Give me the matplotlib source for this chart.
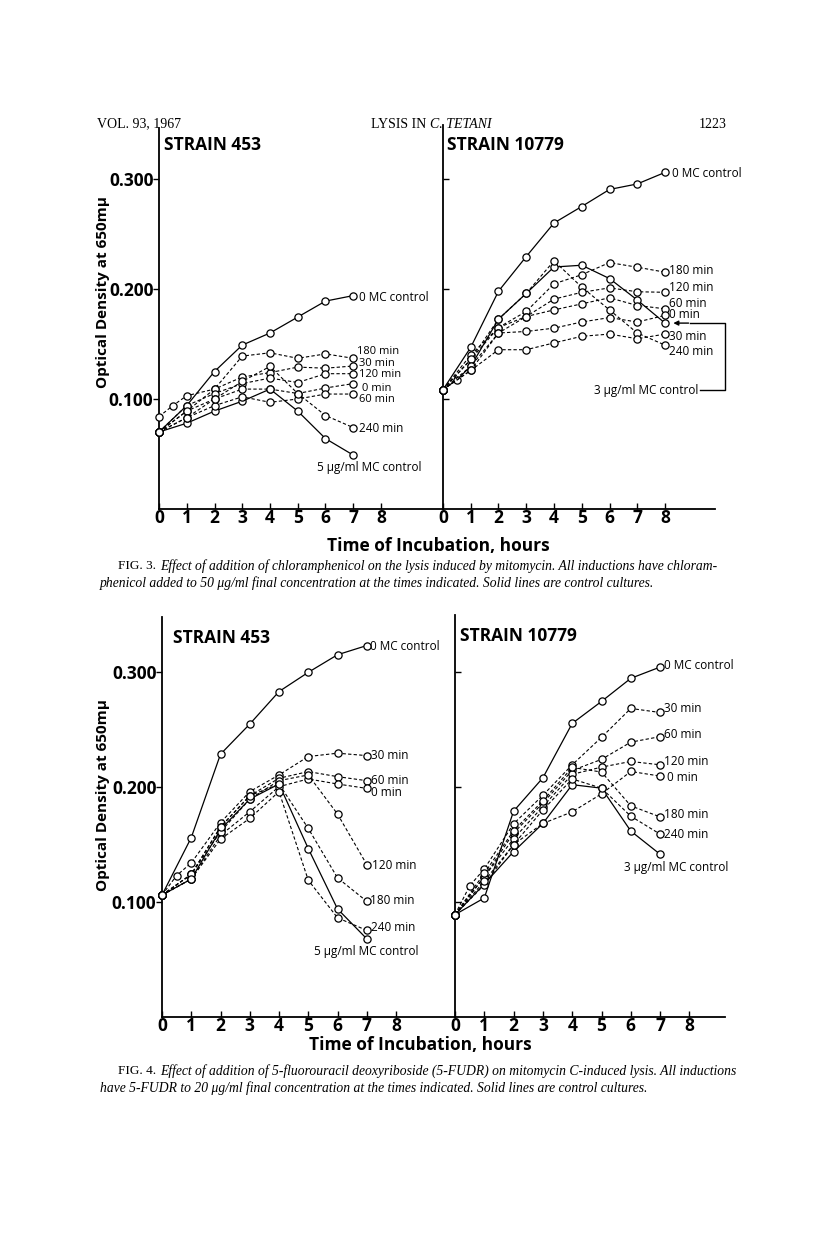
import matplotlib
matplotlib.use("Agg")
import matplotlib.pyplot as plt

# ---------------- data ----------------
hours_453_f3 = [0, 1, 2, 3, 4, 5, 6, 7]
hours_453_f3_30 = [0, 0.5, 1, 2, 3, 4, 5, 6, 7]
f3_453_mc0 = [0.070, 0.094, 0.125, 0.149, 0.160, 0.1745, 0.189, 0.194]
f3_453_mc5 = [0.070, 0.078, 0.089, 0.098, 0.109, 0.089, 0.064, 0.049]
f3_453_180 = [0.070, 0.089, 0.109, 0.139, 0.142, 0.137, 0.141, 0.137]
f3_453_30 = [0.084, 0.094, 0.103, 0.109, 0.120, 0.124, 0.129, 0.128, 0.130]
f3_453_120 = [0.070, 0.094, 0.105, 0.114, 0.119, 0.115, 0.123, 0.123]
f3_453_0 = [0.070, 0.089, 0.100, 0.109, 0.109, 0.105, 0.110, 0.114]
f3_453_60 = [0.070, 0.083, 0.094, 0.102, 0.097, 0.100, 0.1045, 0.1045]
f3_453_240 = [0.070, 0.083, 0.100, 0.116, 0.1296, 0.105, 0.085, 0.074]

hours_10779_f3 = [0, 1, 2, 3, 4, 5, 6, 7, 8]
hours_10779_f3_mc3 = [0, 0.5, 1, 2, 3, 4, 5, 6, 7, 8]
f3_10779_mc0 = [0.1085, 0.147, 0.198, 0.2295, 0.260, 0.275, 0.2905, 0.2955, 0.306]
f3_10779_mc3 = [0.1085, 0.1175, 0.1297, 0.1726, 0.196, 0.220, 0.2216, 0.2095, 0.190, 0.169]
f3_10779_240 = [0.1085, 0.136, 0.1726, 0.196, 0.2256, 0.2017, 0.181, 0.160, 0.149]
f3_10779_180 = [0.1085, 0.140, 0.165, 0.1796, 0.2047, 0.213, 0.224, 0.2198, 0.2153]
f3_10779_120 = [0.1085, 0.136, 0.165, 0.175, 0.1908, 0.197, 0.201, 0.1975, 0.197]
f3_10779_60 = [0.1085, 0.1297, 0.160, 0.175, 0.181, 0.1865, 0.192, 0.185, 0.182]
f3_10779_0 = [0.1085, 0.126, 0.160, 0.1614, 0.1644, 0.170, 0.174, 0.170, 0.176]
f3_10779_30 = [0.1085, 0.126, 0.1448, 0.1448, 0.151, 0.157, 0.159, 0.1548, 0.159]

hours_f4 = [0, 1, 2, 3, 4, 5, 6, 7]
hours_f4_30 = [0, 0.5, 1, 2, 3, 4, 5, 6, 7]
f4_453_mc0 = [0.106, 0.156, 0.2285, 0.2547, 0.283, 0.2997, 0.315, 0.323]
f4_453_mc5 = [0.106, 0.120, 0.163, 0.1895, 0.2026, 0.1465, 0.094, 0.068]
f4_453_30 = [0.106, 0.123, 0.134, 0.169, 0.196, 0.2105, 0.2265, 0.2294, 0.2273]
f4_453_60 = [0.106, 0.124, 0.165, 0.1924, 0.2076, 0.2134, 0.209, 0.2055]
f4_453_0 = [0.106, 0.120, 0.158, 0.1785, 0.2003, 0.207, 0.2026, 0.1988]
f4_453_120 = [0.106, 0.124, 0.161, 0.1895, 0.2055, 0.2105, 0.1765, 0.1326]
f4_453_180 = [0.106, 0.124, 0.1654, 0.1924, 0.2026, 0.164, 0.121, 0.1006]
f4_453_240 = [0.106, 0.120, 0.1547, 0.1727, 0.196, 0.119, 0.0863, 0.0753]

f4_10779_mc0 = [0.089, 0.1035, 0.179, 0.208, 0.2553, 0.2744, 0.2945, 0.3043]
f4_10779_mc3 = [0.089, 0.1156, 0.1438, 0.1683, 0.202, 0.199, 0.1617, 0.1415]
f4_10779_30 = [0.089, 0.114, 0.1288, 0.168, 0.1928, 0.2193, 0.2432, 0.2683, 0.2648]
f4_10779_60 = [0.089, 0.122, 0.160, 0.186, 0.2144, 0.224, 0.239, 0.2438]
f4_10779_120 = [0.089, 0.122, 0.155, 0.183, 0.211, 0.2173, 0.2222, 0.2193]
f4_10779_0 = [0.089, 0.115, 0.150, 0.1683, 0.1784, 0.194, 0.2135, 0.2095]
f4_10779_180 = [0.089, 0.125, 0.162, 0.188, 0.217, 0.213, 0.1836, 0.174]
f4_10779_240 = [0.089, 0.118, 0.150, 0.180, 0.207, 0.199, 0.1746, 0.159]

x_ticks = [0, 1, 2, 3, 4, 5, 6, 7, 8]
y_ticks = [0.100, 0.200, 0.300]
y_ticklabels = ["0.100", "0.200", "0.300"]

# ---------------- layout ----------------
W, H = 816, 1257
fig = plt.figure(figsize=(W / 100, H / 100), dpi=100)
fig.patch.set_facecolor("white")

SANS = ["Open Sans", "DejaVu Sans"]
SERIF = "Liberation Serif"


def px_axes(x0, y_top, x1, y_bot):
    return fig.add_axes([x0 / W, 1 - y_bot / H, (x1 - x0) / W, (y_bot - y_top) / H])


def style(ax, xmax, ymax, ylabels):
    ax.set_xlim(0, xmax)
    ax.set_ylim(0, ymax)
    for s in ("top", "right"):
        ax.spines[s].set_visible(False)
    for s in ("left", "bottom"):
        ax.spines[s].set_linewidth(1.3)
    ax.set_xticks(x_ticks)
    ax.set_xticklabels([str(t) for t in x_ticks], fontsize=12.5, fontweight="bold", family=SANS)
    ax.tick_params(axis="x", direction="in", length=4, width=1.0, pad=0)
    ax.set_yticks(y_ticks)
    if ylabels:
        ax.set_yticklabels(y_ticklabels, fontsize=12.5, fontweight="bold", family=SANS)
        ax.tick_params(axis="y", direction="out", length=4, width=1.0, pad=0)
    else:
        ax.set_yticklabels([])
        ax.tick_params(axis="y", direction="in", length=4, width=1.0)
    ax.set_facecolor("none")


def solid(ax, x, y):
    ax.plot(x, y, "-", color="black", lw=0.9, marker="o", ms=5.2, mfc="white",
            mec="black", mew=0.9, clip_on=False, zorder=3)


def dashed(ax, x, y):
    ax.plot(x, y, color="black", lw=0.8, dashes=(3, 2), marker="o", ms=5.2,
            mfc="white", mec="black", mew=0.9, clip_on=False, zorder=3)


def lab(ax, x, y, s, ha="left", size=8.5):
    ax.text(x, y, s, fontsize=size, family=SANS, ha=ha, va="center", zorder=4)


def strain(x_px, y_px, s):
    fig.text(x_px / W, 1 - y_px / H, s, fontsize=12.5, fontweight="bold",
             family=SANS, va="center", ha="left")


# ---- Figure 3 ----
a1 = px_axes(159, 128, 443, 509)
style(a1, 284 / 27.75, 381 / 1100, True)
solid(a1, hours_453_f3, f3_453_mc0)
solid(a1, hours_453_f3, f3_453_mc5)
dashed(a1, hours_453_f3, f3_453_180)
dashed(a1, hours_453_f3_30, f3_453_30)
dashed(a1, hours_453_f3, f3_453_120)
dashed(a1, hours_453_f3, f3_453_0)
dashed(a1, hours_453_f3, f3_453_60)
dashed(a1, hours_453_f3, f3_453_240)
lab(a1, 7.2, 0.192, "0 MC control")
lab(a1, 7.13, 0.1436, "180 min", size=8)
lab(a1, 7.22, 0.1325, "30 min", size=8)
lab(a1, 7.22, 0.1225, "120 min", size=8)
lab(a1, 7.3, 0.110, "0 min", size=8)
lab(a1, 7.22, 0.100, "60 min", size=8)
lab(a1, 7.22, 0.0736, "240 min")
lab(a1, 5.7, 0.038, "5 μg/ml MC control")
strain(164, 145, "STRAIN 453")

a2 = px_axes(443, 125, 715, 509)
style(a2, 272 / 27.75, 384 / 1100, False)
solid(a2, hours_10779_f3, f3_10779_mc0)
solid(a2, hours_10779_f3_mc3, f3_10779_mc3)
dashed(a2, hours_10779_f3, f3_10779_240)
dashed(a2, hours_10779_f3, f3_10779_180)
dashed(a2, hours_10779_f3, f3_10779_120)
dashed(a2, hours_10779_f3, f3_10779_60)
dashed(a2, hours_10779_f3, f3_10779_0)
dashed(a2, hours_10779_f3, f3_10779_30)
lab(a2, 8.25, 0.305, "0 MC control")
lab(a2, 8.15, 0.217, "180 min")
lab(a2, 8.15, 0.201, "120 min")
lab(a2, 8.15, 0.187, "60 min")
lab(a2, 8.15, 0.177, "0 min")
lab(a2, 8.15, 0.157, "30 min")
lab(a2, 8.15, 0.1436, "240 min")
lab(a2, 9.19, 0.108, "3 μg/ml MC control", ha="right")
a2.plot([9.26, 10.16, 10.16, 8.9], [0.108, 0.108, 0.169, 0.169], color="black",
        lw=1.0, clip_on=False)
a2.annotate("", xy=(8.2, 0.169), xytext=(8.95, 0.169),
            arrowprops=dict(arrowstyle="-|>", color="black", lw=1.0, mutation_scale=7),
            annotation_clip=False)
strain(447, 145, "STRAIN 10779")

fig.text(103 / W, 1 - 292 / H, "Optical Density at 650mμ", rotation=90, fontsize=11,
         fontweight="bold", family=SANS, ha="center", va="center")
fig.text(438 / W, 1 - 546 / H, "Time of Incubation, hours", fontsize=12.5,
         fontweight="bold", family=SANS, ha="center", va="center")

# ---- Figure 4 ----
b1 = px_axes(162, 617, 455, 1017)
style(b1, 293 / 29.25, 400 / 1150, True)
solid(b1, hours_f4, f4_453_mc0)
solid(b1, hours_f4, f4_453_mc5)
dashed(b1, hours_f4_30, f4_453_30)
dashed(b1, hours_f4, f4_453_60)
dashed(b1, hours_f4, f4_453_0)
dashed(b1, hours_f4, f4_453_120)
dashed(b1, hours_f4, f4_453_180)
dashed(b1, hours_f4, f4_453_240)
lab(b1, 7.1, 0.322, "0 MC control")
lab(b1, 7.15, 0.227, "30 min")
lab(b1, 7.15, 0.206, "60 min")
lab(b1, 7.15, 0.195, "0 min")
lab(b1, 7.18, 0.132, "120 min")
lab(b1, 7.1, 0.101, "180 min")
lab(b1, 7.15, 0.0774, "240 min")
lab(b1, 5.2, 0.057, "5 μg/ml MC control")
strain(173, 638, "STRAIN 453")

b2 = px_axes(455, 615, 725, 1017)
style(b2, 270 / 29.3, 402 / 1150, False)
solid(b2, hours_f4, f4_10779_mc0)
solid(b2, hours_f4, f4_10779_mc3)
dashed(b2, hours_f4_30, f4_10779_30)
dashed(b2, hours_f4, f4_10779_60)
dashed(b2, hours_f4, f4_10779_120)
dashed(b2, hours_f4, f4_10779_0)
dashed(b2, hours_f4, f4_10779_180)
dashed(b2, hours_f4, f4_10779_240)
lab(b2, 7.15, 0.306, "0 MC control")
lab(b2, 7.15, 0.268, "30 min")
lab(b2, 7.15, 0.246, "60 min")
lab(b2, 7.15, 0.2226, "120 min")
lab(b2, 7.25, 0.208, "0 min")
lab(b2, 7.15, 0.1757, "180 min")
lab(b2, 7.15, 0.159, "240 min")
lab(b2, 5.77, 0.1296, "3 μg/ml MC control")
strain(460, 636, "STRAIN 10779")

fig.text(103 / W, 1 - 795 / H, "Optical Density at 650mμ", rotation=90, fontsize=11,
         fontweight="bold", family=SANS, ha="center", va="center")
fig.text(420 / W, 1 - 1045 / H, "Time of Incubation, hours", fontsize=12.5,
         fontweight="bold", family=SANS, ha="center", va="center")

# ---- header ----
fig.text(97 / W, 1 - 124 / H, "VOL. 93, 1967", fontsize=10, family=SERIF, va="center")
fig.text(430 / W, 1 - 124 / H, "LYSIS IN ", fontsize=10, family=SERIF, va="center", ha="right")
fig.text(430 / W, 1 - 124 / H, "C. TETANI", fontsize=10, family=SERIF, va="center",
         ha="left", style="italic")
fig.text(727 / W, 1 - 124 / H, "1223", fontsize=10, family=SERIF, va="center", ha="right")

# ---- captions ----
cap3a = ("Effect of addition of chloramphenicol on the lysis induced by mitomycin. "
         "All inductions have chloram-")
cap3b = ("phenicol added to 50 μg/ml final concentration at the times indicated. "
         "Solid lines are control cultures.")
cap4a = ("Effect of addition of 5-fluorouracil deoxyriboside (5-FUDR) on mitomycin "
         "C-induced lysis. All inductions")
cap4b = "have 5-FUDR to 20 μg/ml final concentration at the times indicated. Solid lines are control cultures."

fig.text(118 / W, 1 - 566 / H, "FIG. 3.", fontsize=9.5, family=SERIF, va="center")
fig.text(160 / W, 1 - 566 / H, cap3a, fontsize=9.8, family=SERIF, style="italic", va="center")
fig.text(100 / W, 1 - 583 / H, cap3b, fontsize=9.8, family=SERIF, style="italic", va="center")
fig.text(118 / W, 1 - 1071 / H, "FIG. 4.", fontsize=9.5, family=SERIF, va="center")
fig.text(160 / W, 1 - 1071 / H, cap4a, fontsize=9.8, family=SERIF, style="italic", va="center")
fig.text(100 / W, 1 - 1088 / H, cap4b, fontsize=9.8, family=SERIF, style="italic", va="center")

fig.savefig("out.png", dpi=100, facecolor="white")
